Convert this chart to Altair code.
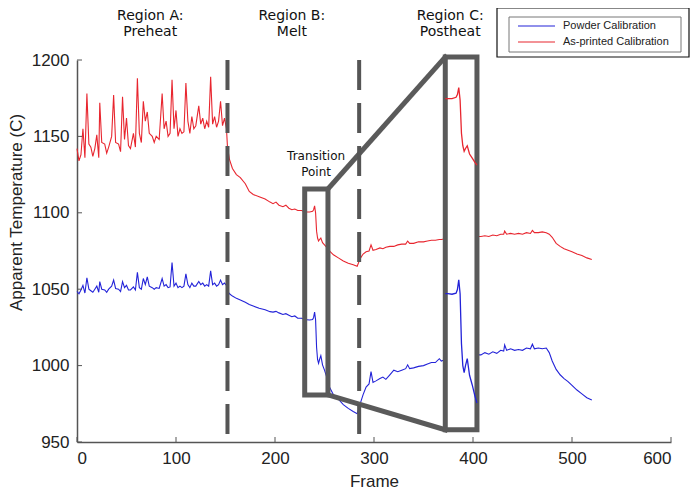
import altair as alt
import pandas as pd

# ---------------- data ----------------
frames = [0, 2, 4, 6, 8, 10, 12, 14, 16, 18, 20, 22, 23, 25, 28, 30, 32, 35, 37, 39,
          42, 44, 46, 48, 50, 52, 54, 57, 59, 61, 63, 65, 67, 69, 71, 73, 76, 78, 80, 83,
          86, 88, 90, 92, 94, 96, 98, 100, 102, 104, 106, 108, 110, 112, 114, 116, 118, 120, 123, 125,
          127, 129, 131, 133, 135, 137, 139, 141, 143, 145, 147, 149, 151,
          152, 154, 157, 161, 165, 170, 174, 178, 184, 190, 195, 198, 201, 204, 208, 211, 214, 217, 220, 223, 227,
          230, 232, 235, 238, 239, 240, 241, 242, 243, 244, 245, 246.3, 248, 250, 252, 253.5,
          255, 259, 264, 269, 274, 279, 283, 286, 289, 292, 295, 297, 299, 302, 306, 309, 312, 316, 320, 324,
          328, 332, 334, 336, 340, 345, 350, 354, 358, 362, 366, 368, 372, 376, 380, 385, 390, 395, 400, 404,
          408, 412, 416, 420, 424, 428, 431, 432, 434, 438, 442, 446, 450, 454, 458, 460, 462, 466, 470, 474,
          477, 480, 484, 488, 492, 496, 500, 505, 510, 515, 520]

as_printed = [1142, 1134, 1138, 1155, 1136, 1178, 1145, 1143, 1137, 1142, 1151, 1136, 1172, 1146, 1145, 1139, 1143, 1150, 1177, 1146,
              1145, 1140, 1176, 1148, 1162, 1144, 1142, 1152, 1143, 1188, 1152, 1146, 1173, 1160, 1166, 1152, 1150, 1146, 1150, 1148,
              1178, 1155, 1160, 1150, 1152, 1187, 1155, 1167, 1150, 1155, 1152, 1153, 1185, 1160, 1152, 1163, 1155, 1157, 1170, 1158,
              1162, 1155, 1160, 1156, 1189, 1158, 1163, 1156, 1160, 1173, 1157, 1162, 1155,
              1143, 1135, 1129, 1125, 1123, 1119, 1114, 1112, 1110.5, 1109, 1107, 1106, 1107, 1105, 1104, 1105, 1103, 1102, 1102.5, 1101.5, 1101.5,
              1100.5, 1100.5, 1100.5, 1101, 1102, 1104.5, 1100, 1088, 1083.5, 1081.5, 1082.5, 1083.5, 1080.5, 1079, 1077.5, 1076.5,
              1075, 1072.5, 1070.5, 1068.5, 1067, 1066, 1065, 1070, 1073, 1074.5, 1075, 1079, 1075.5, 1076, 1077, 1076.5, 1077.5, 1078, 1078, 1079,
              1079.5, 1079.5, 1081.5, 1080, 1080, 1081, 1081, 1081.5, 1082, 1082, 1082.5, 1082.5, 1083, 1083, 1083.5, 1083, 1084, 1084, 1084, 1084.5,
              1084.5, 1085, 1084.5, 1085.5, 1085, 1086, 1086, 1088, 1086, 1086.5, 1086, 1086.5, 1086, 1087, 1086.5, 1088.5, 1087, 1087, 1087.5, 1087,
              1086, 1084, 1080, 1078, 1076.5, 1075.5, 1074.5, 1073, 1072, 1070.5, 1069.5]

powder = [1048.5, 1047, 1049.5, 1052.5, 1047.5, 1057.5, 1050, 1049, 1048, 1050, 1052, 1048, 1055, 1050, 1049.5, 1048, 1050, 1052, 1056, 1050.5,
          1050, 1048.5, 1055, 1051, 1052.5, 1049.5, 1049.5, 1051.5, 1049.5, 1061, 1051, 1050, 1057, 1053, 1058, 1052, 1051, 1050, 1051, 1050.5,
          1057, 1052, 1053, 1051, 1051.5, 1067.5, 1052, 1054, 1051, 1052, 1051, 1052, 1060, 1053, 1051, 1054, 1052, 1052, 1055, 1053,
          1054, 1052, 1053, 1052, 1062, 1053, 1054, 1052, 1053, 1056, 1053, 1054, 1052.5,
          1049, 1047, 1045.5, 1044, 1043, 1041.5, 1040, 1039, 1037.5, 1036.5, 1035.3, 1035, 1035.5, 1034.5, 1033.5, 1034, 1033, 1032, 1032.5, 1031, 1031,
          1030, 1030, 1029.8, 1030.2, 1031.5, 1035, 1030, 1012, 1004, 1001.5, 1004, 1006.5, 1000.5, 997, 993, 990.5,
          986, 981, 978, 974.5, 972, 970, 968.5, 975, 981, 986, 988, 996, 989, 990, 991.5, 992.5, 991, 994, 997, 996,
          997, 998, 1000.5, 998, 998.5, 999.5, 1000, 1001, 1002, 1002, 1004.5, 1003, 1004, 1004, 1005, 1005, 1005.5, 1006, 1006.5, 1007,
          1007, 1008.5, 1007.5, 1009, 1008, 1010, 1009.5, 1013.5, 1010, 1011, 1010, 1010.5, 1010, 1011.5, 1011, 1014, 1011, 1011.5, 1011, 1011.5,
          1008.5, 1003, 997.5, 994, 991.5, 989.5, 987, 984, 981.5, 979, 977.5]

series_names = ["Powder Calibration", "As-printed Calibration"]
series_colors = ["#2323d8", "#e8262f"]

region_bounds = [152, 285]                      # dashed separators (frames)
region_labels = [("Region A:", "Preheat", 74), ("Region B:", "Melt", 217), ("Region C:", "Postheat", 377)]
zoom_box = [230, 253.5, 980.8, 1115.6]          # frame0, frame1, temp0, temp1
inset_box = [372, 404, 958, 1202]
transition_label = ("Transition", "Point", 241.5)

x_ticks = [0, 100, 200, 300, 400, 500, 600]
y_ticks = [950, 1000, 1050, 1100, 1150, 1200]

W, H = 594, 382

# ---------------- frames ----------------
rows = []
for f, r, b in zip(frames, as_printed, powder):
    rows.append({"frame": f, "temp": b, "series": series_names[0]})
    rows.append({"frame": f, "temp": r, "series": series_names[1]})
df = pd.DataFrame(rows)

# zoomed copy of the transition, mapped into the inset box
sx = (inset_box[1] - inset_box[0]) / (zoom_box[1] - zoom_box[0])
sy = (inset_box[3] - inset_box[2]) / (zoom_box[3] - zoom_box[2])
ins = df[(df.frame >= zoom_box[0]) & (df.frame <= zoom_box[1])].copy()
ins["frame"] = inset_box[0] + (ins["frame"] - zoom_box[0]) * sx
ins["temp"] = inset_box[2] + (ins["temp"] - zoom_box[2]) * sy

xs = alt.Scale(domain=[0, 600], nice=False)
ys = alt.Scale(domain=[950, 1200], nice=False)
cs = alt.Scale(domain=series_names, range=series_colors)

base_x = alt.X("frame:Q", scale=xs,
               axis=alt.Axis(values=x_ticks, title="Frame", ticks=False, grid=False, format="d",
                             labelPadding=8, titleY=44, titleBaseline="alphabetic"))
base_y = alt.Y("temp:Q", scale=ys,
               axis=alt.Axis(values=y_ticks, title="Apparent  Temperature (C)", ticks=False, grid=False,
                             format="d", labelPadding=8, titleX=-52, titleY=152))

lines = alt.Chart(df).mark_line(strokeWidth=1.1).encode(
    x=base_x, y=base_y,
    color=alt.Color("series:N", scale=cs, legend=None),
    detail="series:N")

box_gray = "#5a5a5a"
zb = pd.DataFrame([{"x": zoom_box[0], "x2": zoom_box[1], "y": zoom_box[2], "y2": zoom_box[3]}])
ib = pd.DataFrame([{"x": inset_box[0], "x2": inset_box[1], "y": inset_box[2], "y2": inset_box[3]}])
conn = pd.DataFrame([
    {"x": zoom_box[1], "y": zoom_box[3], "x2": inset_box[0], "y2": inset_box[3]},
    {"x": zoom_box[1], "y": zoom_box[2], "x2": inset_box[0], "y2": inset_box[2]},
])

small_box = alt.Chart(zb).mark_rect(fill=None, stroke=box_gray, strokeWidth=5, fillOpacity=0).encode(
    x=alt.X("x:Q", scale=xs), x2="x2:Q", y=alt.Y("y:Q", scale=ys), y2="y2:Q")
connectors = alt.Chart(conn).mark_rule(stroke=box_gray, strokeWidth=5, strokeCap="square").encode(
    x=alt.X("x:Q", scale=xs), x2="x2:Q", y=alt.Y("y:Q", scale=ys), y2="y2:Q")
inset_rect = alt.Chart(ib).mark_rect(fill="white", stroke=box_gray, strokeWidth=5).encode(
    x=alt.X("x:Q", scale=xs), x2="x2:Q", y=alt.Y("y:Q", scale=ys), y2="y2:Q")
inset_lines = alt.Chart(ins).mark_line(strokeWidth=1.3).encode(
    x=alt.X("frame:Q", scale=xs), y=alt.Y("temp:Q", scale=ys),
    color=alt.Color("series:N", scale=cs, legend=None), detail="series:N")

dashes = alt.Chart(pd.DataFrame({"x": region_bounds})).mark_rule(
    stroke="#555555", strokeWidth=4, strokeDash=[30, 13]).encode(
    x=alt.X("x:Q", scale=xs), y=alt.value(0), y2=alt.value(H))

# inward tick marks (MATLAB style)
yt = alt.Chart(pd.DataFrame({"t": y_ticks})).mark_rule(stroke="#555", strokeWidth=1).encode(
    y=alt.Y("t:Q", scale=ys), x=alt.value(0), x2=alt.value(5))
xt = alt.Chart(pd.DataFrame({"t": x_ticks})).mark_rule(stroke="#555", strokeWidth=1).encode(
    x=alt.X("t:Q", scale=xs), y=alt.value(H), y2=alt.value(H - 5))

reg = pd.DataFrame([{"l1": a, "l2": b, "x": c} for a, b, c in region_labels])
reg1 = alt.Chart(reg).mark_text(font="DejaVu Sans", fontSize=14, color="#111", baseline="middle").encode(
    x=alt.X("x:Q", scale=xs), y=alt.value(-44), text="l1:N")
reg2 = alt.Chart(reg).mark_text(font="DejaVu Sans", fontSize=14, color="#111", baseline="middle").encode(
    x=alt.X("x:Q", scale=xs), y=alt.value(-28), text="l2:N")

tr = pd.DataFrame([{"l1": transition_label[0], "l2": transition_label[1], "x": transition_label[2]}])
tr1 = alt.Chart(tr).mark_text(font="DejaVu Sans", fontSize=12, color="#111", baseline="middle").encode(
    x=alt.X("x:Q", scale=xs), y=alt.value(96), text="l1:N")
tr2 = alt.Chart(tr).mark_text(font="DejaVu Sans", fontSize=12, color="#111", baseline="middle").encode(
    x=alt.X("x:Q", scale=xs), y=alt.value(112), text="l2:N")

# ---------------- legend (drawn box-in-box, as in the figure) ----------------
one = pd.DataFrame({"a": [0]})
outer = alt.Chart(one).mark_rect(fill="white", stroke="#111", strokeWidth=1.2).encode(
    x=alt.value(420), x2=alt.value(612), y=alt.value(-52), y2=alt.value(-3))
inner = alt.Chart(one).mark_rect(fill="white", stroke="#777", strokeWidth=1).encode(
    x=alt.value(432), x2=alt.value(604), y=alt.value(-43), y2=alt.value(-8))
leg_layers = []
for i, (name, col) in enumerate(zip(series_names, series_colors)):
    yy = -34 + 16 * i
    leg_layers.append(alt.Chart(one).mark_rule(stroke=col, strokeWidth=1.2).encode(
        x=alt.value(441), x2=alt.value(478), y=alt.value(yy)))
    leg_layers.append(alt.Chart(pd.DataFrame({"t": [name]})).mark_text(
        font="Liberation Sans", fontSize=11, color="#222", align="left", baseline="middle").encode(
        x=alt.value(486), y=alt.value(yy), text="t:N"))

chart = alt.layer(
    lines, small_box, connectors, inset_rect, inset_lines, dashes, yt, xt,
    reg1, reg2, tr1, tr2, outer, inner, *leg_layers
).properties(
    width=W, height=H,
    autosize=alt.AutoSizeParams(type="none"),
    padding={"left": 69, "top": 52, "right": 21, "bottom": 48},
).configure_view(stroke=None).configure_axis(
    domainColor="#555", domainWidth=1.5,
    labelFont="Liberation Sans", labelFontSize=17, labelColor="#222",
    titleFont="Liberation Sans", titleFontSize=17, titleFontWeight="normal", titleColor="#222",
)

chart.save("out.html", embed_options={"renderer": "svg", "actions": False})
